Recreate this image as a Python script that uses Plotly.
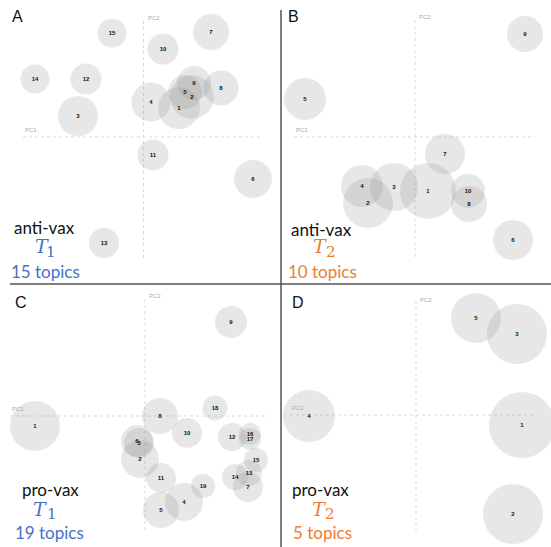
import plotly.graph_objects as go

W, H = 551, 547
VX, HY = 281, 284

# ---- data: topic positions in PC space (PC1, PC2) and bubble radius ----
A_labels = ["15", "10", "7", "14", "12", "3", "4", "2", "1", "9", "5", "8", "11", "6", "13"]
A_pc1 = [-31.5, 19.5, 67.5, -108.5, -57.5, -65.5, 7.5, 48.5, 35.5, 50.5, 41.5, 77.5, 9.5, 109.5, -39.5]
A_pc2 = [104, 88, 105, 58, 58, 21, 35, 40, 29, 54, 45, 49, -18, -42, -106]
A_r = [14.5, 15.5, 18, 14.5, 15.5, 20, 19.5, 22, 21, 17, 17, 17.5, 15.5, 19, 15]

B_labels = ["9", "5", "7", "4", "3", "1", "2", "10", "8", "6"]
B_pc1 = [110, -110, 30, -53, -21, 13, -47, 53, 54, 98]
B_pc2 = [103, 38, -17, -49, -50, -54, -66, -54, -67, -103]
B_r = [18, 21, 20, 21, 24, 28, 25, 17, 18, 20]

C_labels = ["9", "18", "1", "8", "10", "6", "3", "2", "12", "16", "17", "15", "11", "19", "14", "13", "7", "4", "5"]
C_pc1 = [86, 70, -110, 15, 42, -8, -6, -5, 87, 105, 105, 111, 16, 58, 90, 104, 103, 39, 16]
C_pc2 = [94, 8, -10, 0, -17, -25, -27, -43, -21, -18, -23, -44, -62, -70, -61, -57, -71, -86, -94]
C_r = [16, 12.5, 25, 18, 15, 16, 15, 19, 14, 11, 11, 12, 15, 12, 13, 13, 15, 19, 18]

D_labels = ["5", "3", "4", "1", "2"]
D_pc1 = [60, 101, -107, 106, 97]
D_pc2 = [97, 81, -1, -10, -99]
D_r = [25, 30, 26, 33, 30]

panels = [
    dict(key="", labels=A_labels, x=A_pc1, y=A_pc2, r=A_r,
         dom_x=[0, VX / W], dom_y=[1 - HY / H, 1], rx=[-143.5, 137.5], ry=[-147, 137],
         pc1=[-120.5, 119.5], pc2=[-121, 119]),
    dict(key="2", labels=B_labels, x=B_pc1, y=B_pc2, r=B_r,
         dom_x=[VX / W, 1], dom_y=[1 - HY / H, 1], rx=[-134, 136], ry=[-147, 137],
         pc1=[-121, 120], pc2=[-120, 120]),
    dict(key="3", labels=C_labels, x=C_pc1, y=C_pc2, r=C_r,
         dom_x=[0, VX / W], dom_y=[0, 1 - HY / H], rx=[-145, 136], ry=[-131, 132],
         pc1=[-135, 122], pc2=[-114, 120]),
    dict(key="4", labels=D_labels, x=D_pc1, y=D_pc2, r=D_r,
         dom_x=[VX / W, 1], dom_y=[0, 1 - HY / H], rx=[-135, 135], ry=[-132, 131],
         pc1=[-126, 121], pc2=[-117, 115]),
]

fig = go.Figure()
layout_axes = {}
annotations = []
for p in panels:
    xa, ya = "x" + p["key"], "y" + p["key"]
    # PC axes (dotted)
    fig.add_trace(go.Scatter(x=p["pc1"], y=[0, 0], mode="lines", xaxis=xa, yaxis=ya,
                             line=dict(color="#d9d9d9", width=1, dash="dot"),
                             hoverinfo="skip", showlegend=False))
    fig.add_trace(go.Scatter(x=[0, 0], y=p["pc2"], mode="lines", xaxis=xa, yaxis=ya,
                             line=dict(color="#d9d9d9", width=1, dash="dot"),
                             hoverinfo="skip", showlegend=False))
    # topic bubbles
    fig.add_trace(go.Scatter(
        x=p["x"], y=p["y"], mode="markers+text", xaxis=xa, yaxis=ya,
        text=p["labels"], textposition="middle center",
        textfont=dict(family="Arial", size=6, color="#111", weight="bold"),
        marker=dict(size=[2 * v for v in p["r"]], color="rgba(140,140,140,0.3)",
                    line=dict(width=0)),
        cliponaxis=False, showlegend=False))
    xname = "xaxis" + p["key"]
    yname = "yaxis" + p["key"]
    layout_axes[xname] = dict(domain=p["dom_x"], range=p["rx"], visible=False, fixedrange=True,
                              anchor=ya)
    layout_axes[yname] = dict(domain=p["dom_y"], range=p["ry"], visible=False, fixedrange=True,
                              anchor=xa)
    annotations.append(dict(x=p["pc1"][0], y=2, xref=xa, yref=ya, text="PC1", showarrow=False,
                            xanchor="left", yanchor="bottom",
                            font=dict(family="Arial", size=6, color="#aaa")))
    annotations.append(dict(x=2, y=p["pc2"][1], xref=xa, yref=ya, text="PC2", showarrow=False,
                            xanchor="left", yanchor="middle",
                            font=dict(family="Arial", size=6, color="#aaa")))


def px(xp, yp):
    return xp / W, 1 - yp / H


BLUE, ORANGE = "#4472C4", "#ED7D31"
# (panel letter, letter pos, group, group pos, T pos, subscript, sub pos, count text, count pos, colour)
panel_text = [
    ("A", (10, 17), "anti-vax", (44, 227), (42, 246), "1", (51, 252), "15 topics", (45, 271), BLUE),
    ("B", (286, 17), "anti-vax", (321, 229), (320, 246), "2", (331, 252), "10 topics", (322, 271), ORANGE),
    ("C", (13, 302), "pro-vax", (50, 489), (40, 509), "1", (52, 514), "19 topics", (49, 532), BLUE),
    ("D", (290, 302), "pro-vax", (320, 489), (319, 509), "2", (330, 514), "5 topics", (322, 532), ORANGE),
]
for (L, lp, grp, gp, tp, sub, sp, n, npos, col) in panel_text:
    x, y = px(*lp)
    annotations.append(dict(x=x, y=y, xref="paper", yref="paper", text=L, showarrow=False,
                            xanchor="left", yanchor="middle",
                            font=dict(family="Liberation Sans", size=16, color="#111")))
    x, y = px(*gp)
    annotations.append(dict(x=x, y=y, xref="paper", yref="paper", text=grp, showarrow=False,
                            xanchor="center", yanchor="middle", borderpad=0,
                            font=dict(family="Lato", size=17, color="#111")))
    x, y = px(*tp)
    annotations.append(dict(x=x, y=y, xref="paper", yref="paper", text="<i>T</i>",
                            showarrow=False, xanchor="center", yanchor="middle", borderpad=0,
                            font=dict(family="DejaVu Serif", size=19, color=col)))
    x, y = px(*sp)
    annotations.append(dict(x=x, y=y, xref="paper", yref="paper", text=sub,
                            showarrow=False, xanchor="center", yanchor="middle", borderpad=0,
                            font=dict(family="DejaVu Serif", size=15, color=col)))
    x, y = px(*npos)
    annotations.append(dict(x=x, y=y, xref="paper", yref="paper", text=n, showarrow=False,
                            xanchor="center", yanchor="middle", borderpad=0,
                            font=dict(family="Lato", size=17, color=col)))

shapes = [
    dict(type="line", xref="paper", yref="paper", x0=10 / W, x1=1, y0=1 - HY / H, y1=1 - HY / H,
         line=dict(color="#555", width=1.5)),
    dict(type="line", xref="paper", yref="paper", x0=VX / W, x1=VX / W, y0=0, y1=1 - 10 / H,
         line=dict(color="#555", width=1.5)),
]

fig.update_layout(width=W, height=H, margin=dict(l=0, r=0, t=0, b=0),
                  paper_bgcolor="white", plot_bgcolor="white",
                  annotations=annotations, shapes=shapes, showlegend=False,
                  **layout_axes)
fig.write_html("out.html", config={"displayModeBar": False},
               post_script="document.body.style.margin='0';")
